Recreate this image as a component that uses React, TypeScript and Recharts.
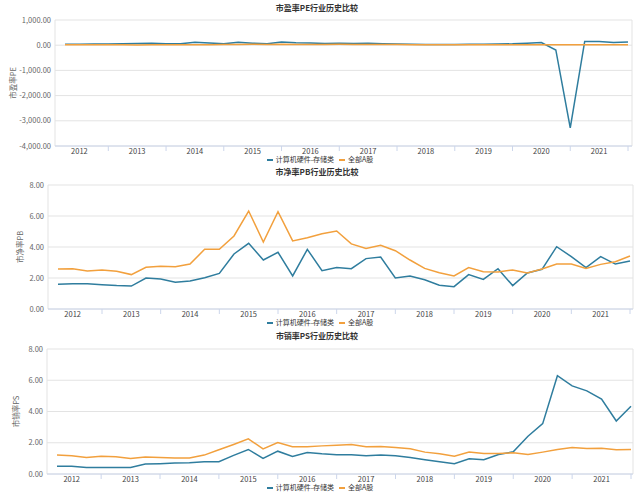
import React from 'react';
import { LineChart, Line, XAxis, YAxis, CartesianGrid, Legend } from 'recharts';

const FONT = '"Noto Sans CJK SC", "Noto Sans", sans-serif';
const BLUE = '#2f7d9e';
const ORANGE = '#f2a03d';

const periods = [
  '2011Q4',
  '2012Q1', '2012Q2', '2012Q3', '2012Q4',
  '2013Q1', '2013Q2', '2013Q3', '2013Q4',
  '2014Q1', '2014Q2', '2014Q3', '2014Q4',
  '2015Q1', '2015Q2', '2015Q3', '2015Q4',
  '2016Q1', '2016Q2', '2016Q3', '2016Q4',
  '2017Q1', '2017Q2', '2017Q3', '2017Q4',
  '2018Q1', '2018Q2', '2018Q3', '2018Q4',
  '2019Q1', '2019Q2', '2019Q3', '2019Q4',
  '2020Q1', '2020Q2', '2020Q3', '2020Q4',
  '2021Q1', '2021Q2', '2021Q3',
];

const seriesNames = ['计算机硬件-存储类', '全部A股'];

const peBlue = [40, 42, 45, 50, 55, 70, 75, 60, 55, 120, 90, 60, 115, 80, 55, 125, 100, 90, 70, 75,
  70, 75, 60, 45, 35, 30, 30, 28, 40, 40, 45, 55, 80, 105, -190, -3280, 150, 145, 110, 130];
const peOrange = [14, 15, 14, 14, 13, 12, 14, 15, 15, 16, 22, 24, 30, 40, 28, 38, 30, 30, 32, 33,
  30, 27, 28, 25, 20, 16, 15, 14, 17, 16, 16, 16, 15, 17, 20, 22, 19, 20, 19, 21];

const pbBlue = [1.59, 1.63, 1.63, 1.57, 1.51, 1.48, 2.0, 1.94, 1.72, 1.81, 2.02, 2.3, 3.55, 4.24, 3.16, 3.66, 2.13, 3.85, 2.47, 2.67,
  2.6, 3.25, 3.35, 2.0, 2.13, 1.89, 1.53, 1.44, 2.22, 1.91, 2.6, 1.51, 2.32, 2.56, 4.02, 3.38, 2.67, 3.38, 2.9, 3.1];
const pbOrange = [2.58, 2.6, 2.45, 2.52, 2.43, 2.22, 2.69, 2.75, 2.73, 2.9, 3.85, 3.85, 4.71, 6.32, 4.32, 6.28, 4.39, 4.6, 4.86, 5.03,
  4.2, 3.91, 4.11, 3.76, 3.16, 2.62, 2.34, 2.13, 2.67, 2.41, 2.39, 2.52, 2.32, 2.58, 2.9, 2.9, 2.62, 2.88, 3.05, 3.42];

const psBlue = [0.49, 0.49, 0.42, 0.42, 0.42, 0.42, 0.64, 0.66, 0.7, 0.72, 0.78, 0.78, 1.19, 1.57, 1.0, 1.46, 1.12, 1.38, 1.29, 1.23,
  1.23, 1.17, 1.21, 1.17, 1.06, 0.91, 0.78, 0.66, 0.97, 0.91, 1.25, 1.42, 2.42, 3.22, 6.29, 5.64, 5.32, 4.79, 3.39, 4.34];
const psOrange = [1.21, 1.17, 1.06, 1.14, 1.1, 1.0, 1.08, 1.06, 1.02, 1.02, 1.21, 1.55, 1.89, 2.25, 1.61, 2.01, 1.74, 1.74, 1.8, 1.84,
  1.89, 1.74, 1.76, 1.69, 1.61, 1.4, 1.29, 1.14, 1.4, 1.31, 1.31, 1.36, 1.25, 1.4, 1.57, 1.69, 1.63, 1.65, 1.55, 1.57];

const peTicks = [-4000, -3000, -2000, -1000, 0, 1000];
const ratioTicks = [0, 2, 4, 6, 8];

const buildRows = (a: number[], b: number[]) =>
  periods.map((p, i) => ({ period: p, blue: a[i], orange: b[i] }));

const fmt = (v: number) =>
  v.toLocaleString('en-US', { minimumFractionDigits: 2, maximumFractionDigits: 2 });

const XTick = (props: any) => {
  const { x, y, payload } = props;
  const v: string = payload.value;
  const isLabel = v.endsWith('Q1');
  const isMark = v.endsWith('Q3');
  return (
    <g>
      {isMark && <line x1={x} x2={x} y1={y} y2={y + 5} stroke="#ccd6eb" strokeWidth={1} />}
      {isLabel && (
        <text x={x} y={y + 5.5} textAnchor="middle" dominantBaseline="middle" fontSize={7.5} fill="#444" fontFamily={FONT}>
          {v.slice(0, 4)}
        </text>
      )}
    </g>
  );
};

const LegendContent = (props: any) => {
  const items = [...(props.payload || [])].sort((a: any, b: any) =>
    String(a.dataKey).localeCompare(String(b.dataKey)));
  return (
    <div style={{ display: 'flex', justifyContent: 'center', alignItems: 'center', fontFamily: FONT, fontSize: 7, color: '#333', lineHeight: '9px' }}>
      {items.map((item: any, i: number) => (
        <div key={i} style={{ display: 'flex', alignItems: 'center', marginLeft: i === 0 ? 0 : 5 }}>
          <span style={{ display: 'inline-block', width: 6, height: 2, background: item.color, marginRight: 3 }} />
          <span>{item.value}</span>
        </div>
      ))}
    </div>
  );
};

type PanelProps = {
  top: number;
  title: string;
  axisTitle: string;
  rows: any[];
  ticks: number[];
  yWidth: number;
  padL: number;
  padR: number;
  marginRight: number;
  xAxisH: number;
  legendTop: number;
  titleTop: number;
  labelX: number;
};

const Panel = (p: PanelProps) => {
  const AxisTitle = (lp: any) => {
    const vb = lp.viewBox || {};
    const cy = vb.y + vb.height / 2;
    return (
      <text x={p.labelX} y={cy} transform={`rotate(-90 ${p.labelX} ${cy})`} textAnchor="middle" dominantBaseline="middle" fontSize={7.5} fill="#666" fontFamily={FONT}>
        {p.axisTitle}
      </text>
    );
  };
  return (
    <div style={{ position: 'absolute', left: 0, top: p.top, width: 640, height: 165 }}>
      <div style={{ position: 'absolute', top: p.titleTop, left: 0, width: 634, textAlign: 'center', fontSize: 8, fontWeight: 'bold', color: '#333', fontFamily: FONT, lineHeight: '11px', zIndex: 2 }}>
        {p.title}
      </div>
      <LineChart width={640} height={165} data={p.rows} margin={{ top: 20, right: p.marginRight, bottom: 0, left: 0 }}>
        <CartesianGrid
          stroke="#e3e3e3"
          verticalCoordinatesGenerator={({ offset }: any) => [offset.left, offset.left + offset.width]}
        />
        <XAxis
          dataKey="period"
          scale="point"
          interval={0}
          tick={<XTick />}
          tickLine={false}
          tickSize={0}
          tickMargin={0}
          axisLine={{ stroke: '#ccd6eb' }}
          height={p.xAxisH}
          padding={{ left: p.padL, right: p.padR }}
        />
        <YAxis
          width={p.yWidth}
          domain={[p.ticks[0], p.ticks[p.ticks.length - 1]]}
          ticks={p.ticks}
          tickFormatter={fmt}
          axisLine={false}
          tickLine={false}
          tickSize={0}
          tickMargin={4}
          tick={{ fontSize: 7.5, fill: '#666', fontFamily: FONT }}
          label={<AxisTitle />}
        />
        <Legend
          layout="horizontal"
          verticalAlign="middle"
          align="center"
          itemSorter="dataKey"
          content={<LegendContent />}
          wrapperStyle={{ top: p.legendTop, left: 0, width: 640, height: 9 }}
        />
        <Line type="linear" dataKey="blue" name={seriesNames[0]} stroke={BLUE} strokeWidth={1.5} dot={false} isAnimationActive={false} />
        <Line type="linear" dataKey="orange" name={seriesNames[1]} stroke={ORANGE} strokeWidth={1.5} dot={false} isAnimationActive={false} />
      </LineChart>
    </div>
  );
};

export default function App() {
  return (
    <div style={{ position: 'absolute', left: 0, top: 0, width: 640, height: 493, background: '#fff', overflow: 'hidden' }}>
      <Panel top={0} title="市盈率PE行业历史比较" axisTitle="市盈率PE" rows={buildRows(peBlue, peOrange)} ticks={peTicks}
        yWidth={55} padL={10} padR={4} marginRight={8} xAxisH={19} legendTop={155} titleTop={2} labelX={14} />
      <Panel top={165} title="市净率PB行业历史比较" axisTitle="市净率PB" rows={buildRows(pbBlue, pbOrange)} ticks={ratioTicks}
        yWidth={48} padL={10} padR={3} marginRight={7} xAxisH={21} legendTop={153} titleTop={1} labelX={21} />
      <Panel top={329} title="市销率PS行业历史比较" axisTitle="市销率PS" rows={buildRows(psBlue, psOrange)} ticks={ratioTicks}
        yWidth={47} padL={10} padR={2} marginRight={7} xAxisH={20} legendTop={154} titleTop={1} labelX={17} />
    </div>
  );
}
